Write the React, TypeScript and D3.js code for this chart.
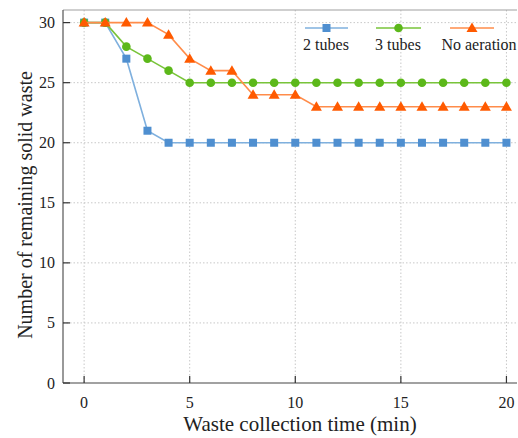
import React from "react";
import * as d3 from "d3";

const times = d3.range(0, 21);
const twoTubes = [30, 30, 27, 21, 20, 20, 20, 20, 20, 20, 20, 20, 20, 20, 20, 20, 20, 20, 20, 20, 20];
const threeTubes = [30, 30, 28, 27, 26, 25, 25, 25, 25, 25, 25, 25, 25, 25, 25, 25, 25, 25, 25, 25, 25];
const noAeration = [30, 30, 30, 30, 29, 27, 26, 26, 24, 24, 24, 23, 23, 23, 23, 23, 23, 23, 23, 23, 23];
const xTicks = [0, 5, 10, 15, 20];
const yTicks = [0, 5, 10, 15, 20, 25, 30];
const seriesNames = ["2 tubes", "3 tubes", "No aeration"];

const W = 518, H = 438;
const L = 63, R = 517, T = 10, B = 383;
const font = "Liberation Serif, Tinos, Noto Serif, DejaVu Serif, Times New Roman, Times, serif";

export default function App() {
  const x = d3.scaleLinear().domain([-1, 20.5]).range([L, R]);
  const y = d3.scaleLinear().domain([0, 31.05]).range([B, T]);
  const line = d3.line<number>().x((_, i) => x(times[i])).y((d) => y(d));

  const series = [
    { name: seriesNames[0], data: twoTubes, line: "#7fb0de", fill: "#4f8fd0", shape: "square" },
    { name: seriesNames[1], data: threeTubes, line: "#79c43a", fill: "#5cb81a", shape: "circle" },
    { name: seriesNames[2], data: noAeration, line: "#ff8c4a", fill: "#ff5a00", shape: "triangle" },
  ];

  const marker = (shape: string, cx: number, cy: number, fill: string, key: string | number) => {
    if (shape === "square") return <rect key={key} x={cx - 4} y={cy - 4} width={8} height={8} fill={fill} />;
    if (shape === "circle") return <circle key={key} cx={cx} cy={cy} r={4.3} fill={fill} />;
    return <path key={key} d={`M${cx},${cy - 5.5}L${cx + 5.5},${cy + 4}L${cx - 5.5},${cy + 4}Z`} fill={fill} />;
  };

  const legend = [
    { x1: 305, x2: 348, tx: 326 },
    { x1: 376, x2: 421, tx: 398 },
    { x1: 450, x2: 494, tx: 479 },
  ];

  return (
    <svg width={W} height={H} style={{ position: "absolute", left: 0, top: 0, background: "#fff", fontFamily: font }}>
      {xTicks.map((t) => (
        <line key={"gx" + t} x1={x(t)} x2={x(t)} y1={T} y2={B} stroke="#c8c8c8" strokeWidth={1} strokeDasharray="1.5,2" />
      ))}
      {yTicks.filter((t) => t > 0).map((t) => (
        <line key={"gy" + t} x1={L} x2={R} y1={y(t)} y2={y(t)} stroke="#c8c8c8" strokeWidth={1} strokeDasharray="1.5,2" />
      ))}
      <line x1={L} x2={R} y1={T} y2={T} stroke="#a0a0a0" strokeWidth={1.2} />
      <line x1={L} x2={L} y1={T} y2={B} stroke="#555" strokeWidth={1.2} />
      <line x1={L} x2={R} y1={B} y2={B} stroke="#444" strokeWidth={1.2} />
      {xTicks.map((t) => (
        <g key={"tx" + t}>
          <line x1={x(t)} x2={x(t)} y1={B} y2={B - 7} stroke="#333" strokeWidth={1.2} />
          <text x={x(t)} y={B + 25} textAnchor="middle" style={{ fontFamily: font }} fontSize={16} fill="#222">{t}</text>
        </g>
      ))}
      {yTicks.map((t) => (
        <g key={"ty" + t}>
          <line x1={L} x2={L + 7} y1={y(t)} y2={y(t)} stroke="#333" strokeWidth={1.2} />
          <text x={L - 8} y={y(t) + 5.5} textAnchor="end" style={{ fontFamily: font }} fontSize={16} fill="#222">{t}</text>
        </g>
      ))}
      {series.map((s) => (
        <g key={s.name}>
          <path d={line(s.data) || ""} fill="none" stroke={s.line} strokeWidth={1.6} />
          {s.data.map((v, i) => marker(s.shape, x(times[i]), y(v), s.fill, i))}
        </g>
      ))}
      {series.map((s, i) => (
        <g key={"lg" + i}>
          <line x1={legend[i].x1} x2={legend[i].x2} y1={28} y2={28} stroke={s.line} strokeWidth={1.6} />
          {marker(s.shape, (legend[i].x1 + legend[i].x2) / 2, 28, s.fill, "m")}
          <text x={legend[i].tx} y={50} textAnchor="middle" style={{ fontFamily: font }} fontSize={16} fill="#222">{s.name}</text>
        </g>
      ))}
      <text x={300} y={431} textAnchor="middle" style={{ fontFamily: font }} fontSize={21} fill="#222">Waste collection time (min)</text>
      <text transform={`translate(32,205) rotate(-90)`} textAnchor="middle" style={{ fontFamily: font }} fontSize={20} fill="#222">Number of remaining solid waste</text>
    </svg>
  );
}
